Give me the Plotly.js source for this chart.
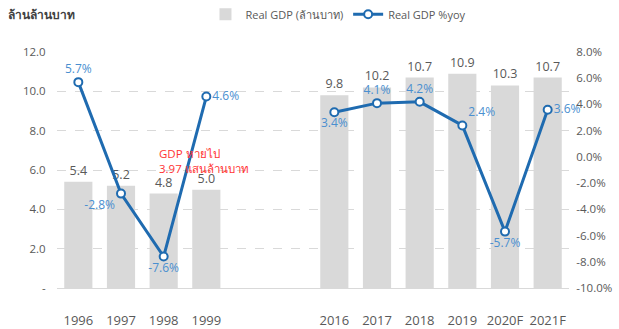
<!DOCTYPE html>
<html><head><meta charset="utf-8">
<script src="https://cdn.plot.ly/plotly-3.0.1.min.js"></script>
<style>html,body{margin:0;padding:0;background:#fff}#chart{width:619px;height:329px}</style>
</head><body><div id="chart"></div>
<script>
// categories (null entries = empty gap slots on the axis)
const categories = ['1996','1997','1998','1999',null,null,'2016','2017','2018','2019','2020F','2021F'];
const gdpValues  = [5.4, 5.2, 4.8, 5.0, null, null, 9.8, 10.2, 10.7, 10.9, 10.3, 10.7];
const yoyValues  = [5.7, -2.8, -7.6, 4.6, null, null, 3.4, 4.1, 4.2, 2.4, -5.7, 3.6];
const yoyLabelPos = ['top center','bottom left','bottom center','middle right',null,null,'bottom center','top center','top center','top right','bottom center','middle right'];
const leftTicks = [0, 2, 4, 6, 8, 10, 12];
const leftTickText = ['-', '2.0', '4.0', '6.0', '8.0', '10.0', '12.0'];
const rightTicks = [-10, -8, -6, -4, -2, 0, 2, 4, 6, 8];
const rightTickText = ['-10.0%','-8.0%','-6.0%','-4.0%','-2.0%','0.0%','2.0%','4.0%','6.0%','8.0%'];

const xs = categories.map((c, i) => i);
const tickvals = xs.filter(i => categories[i] !== null);
const ticktext = tickvals.map(i => categories[i]);
const FONT = 'Open Sans, Noto Sans, Liberation Sans, sans-serif';

const bars = {
  type: 'bar', name: 'Real GDP (ล้านบาท)', x: xs, y: gdpValues,
  marker: {color: '#d9d9d9'}, width: 0.66,
  text: gdpValues.map(v => v === null ? '' : v.toFixed(1)),
  textposition: 'outside', cliponaxis: false,
  textfont: {color: '#595959', size: 12.5, family: FONT},
  hoverinfo: 'skip'
};
const line = {
  type: 'scatter', mode: 'lines+markers+text', name: 'Real GDP %yoy',
  x: xs, y: yoyValues, yaxis: 'y2', connectgaps: false,
  line: {color: '#1f6bb0', width: 3},
  marker: {symbol: 'circle', size: 8, color: '#ffffff', line: {color: '#1f6bb0', width: 2}},
  text: yoyValues.map(v => v === null ? '' : v.toFixed(1) + '%'),
  textposition: yoyLabelPos.map(p => p || 'top center'),
  textfont: {color: '#4a8fd0', size: 12, family: FONT},
  cliponaxis: false
};

const layout = {
  width: 619, height: 329,
  margin: {l: 57, r: 50, t: 52, b: 41, autoexpand: false},
  paper_bgcolor: '#fff', plot_bgcolor: '#fff',
  font: {family: FONT, color: '#595959', size: 11},
  showlegend: true,
  legend: {orientation: 'h', x: 0.29, xanchor: 'left', y: 1.16, yanchor: 'middle',
           font: {size: 11, color: '#595959', family: FONT}, itemwidth: 30, traceorder: 'normal'},
  xaxis: {
    range: [-0.5, 11.5], tickvals: tickvals, ticktext: ticktext, automargin: false,
    showgrid: false, zeroline: false, showline: false,
    ticks: 'outside', ticklen: 20, tickcolor: 'rgba(0,0,0,0)',
    tickfont: {size: 13, color: '#595959', family: FONT}
  },
  yaxis: {
    range: [0, 12], tickvals: leftTicks, ticktext: leftTickText, automargin: false,
    showgrid: true, gridcolor: '#d9d9d9', griddash: 'dash', gridwidth: 1,
    zeroline: true, zerolinecolor: '#d9d9d9', zerolinewidth: 1,
    ticks: 'outside', ticklen: 8, tickcolor: 'rgba(0,0,0,0)',
    tickfont: {size: 11.5, color: '#595959', family: FONT}
  },
  yaxis2: {
    range: [-10, 8], tickvals: rightTicks, ticktext: rightTickText, automargin: false,
    overlaying: 'y', side: 'right', showgrid: false, zeroline: false,
    ticks: 'outside', ticklen: 4, tickcolor: 'rgba(0,0,0,0)',
    tickfont: {size: 11.5, color: '#595959', family: FONT}
  },
  annotations: [
    {text: '<b>ล้านล้านบาท</b>', xref: 'paper', yref: 'paper', x: -0.1, y: 1.16,
     xanchor: 'left', yanchor: 'middle', showarrow: false,
     font: {size: 12, color: '#404040', family: FONT}},
    {text: 'GDP หายไป<br>3.97 แสนล้านบาท', xref: 'x', yref: 'y', x: 1.84, y: 6.45,
     xanchor: 'left', yanchor: 'middle', align: 'left', showarrow: false,
     font: {size: 11.5, color: '#ff3333', family: FONT}}
  ]
};

Plotly.newPlot('chart', [bars, line], layout, {displayModeBar: false, staticPlot: true});
</script></body></html>
